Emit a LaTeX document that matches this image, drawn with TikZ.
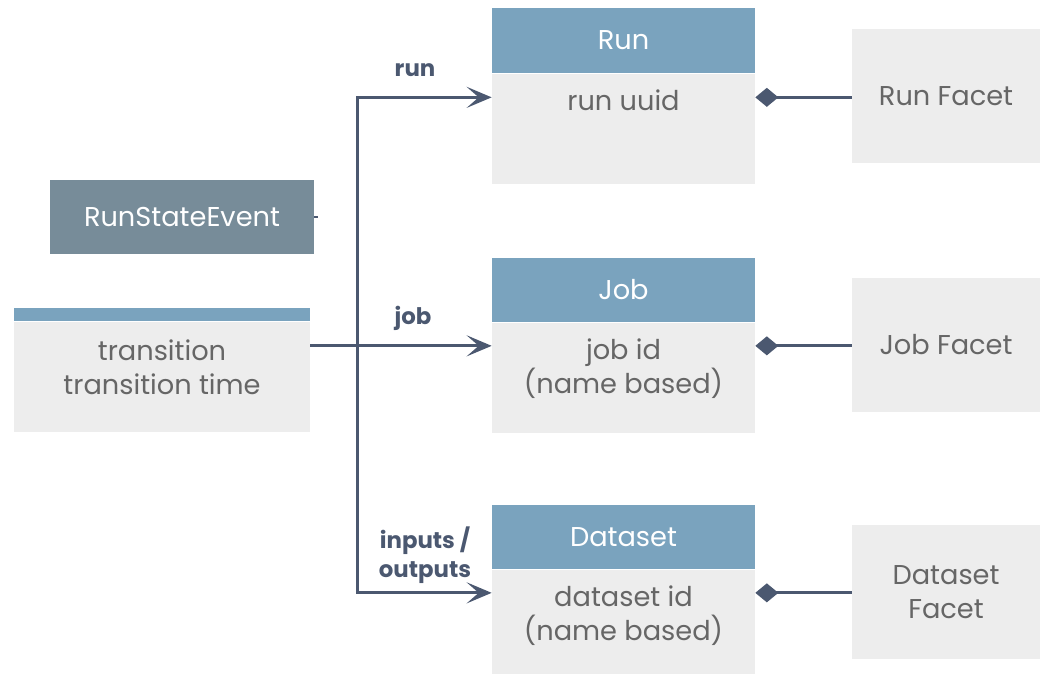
\documentclass[tikz,border=0pt]{standalone}
\usepackage{fontspec}
\setmainfont{Poppins}
\usetikzlibrary{positioning,arrows.meta,calc}

\definecolor{hdrblue}{HTML}{7AA3BE}
\definecolor{boxgray}{HTML}{EDEDED}
\definecolor{evtgray}{HTML}{778C99}
\definecolor{linecol}{HTML}{4B5870}
\definecolor{txtgray}{HTML}{666666}

\tikzset{
  hdr/.style={rectangle, fill=hdrblue, text=white, minimum width=5.26cm,
    minimum height=1.3cm, inner sep=0pt, font=\fontsize{15.5}{19.3}\selectfont},
  body/.style={rectangle, fill=boxgray, minimum width=5.26cm,
    minimum height=2.2cm, inner sep=0pt},
  facet/.style={rectangle, fill=boxgray, text=txtgray, minimum width=3.76cm,
    minimum height=2.7cm, inner sep=0pt, align=center,
    font=\fontsize{15.5}{19.3}\selectfont},
  txt/.style={text=txtgray, inner sep=0pt, align=center,
    font=\fontsize{15.5}{19.3}\selectfont},
  lbl/.style={text=linecol, inner sep=0pt, align=center,
    font=\fontsize{13}{16.5}\selectfont\bfseries},
  link/.style={draw=linecol, line width=1.7pt,
    -{Stealth[length=0.5cm, width=0.42cm, inset=0.24cm]}},
  comp/.style={draw=linecol, line width=1.7pt,
    {Diamond[length=0.46cm, width=0.38cm]}-},
}

\begin{document}
\begin{tikzpicture}[x=0.02cm, y=-0.02cm]
  \useasboundingbox (0,0) rectangle (1043,675);

  \node[rectangle, fill=evtgray, text=white, minimum width=5.28cm, minimum height=1.5cm,
    inner sep=0pt, font=\fontsize{15.5}{19.3}\selectfont] (evt) at (182,217) {RunStateEvent};
  \draw[draw=linecol, line width=1pt] (evt.east) -- ++(4,0);

  \node[rectangle, fill=hdrblue, minimum width=5.92cm, minimum height=0.26cm,
    inner sep=0pt] (trhdr) at (162,314.5) {};
  \node[body, minimum width=5.92cm, below=0pt of trhdr] (trbody) {};
  \node[txt] (trtxt) at ($(trbody.center)+(0,-9)$) {transition\\transition time};

  \node[hdr] (run) at (623.5,40.5) {Run};
  \node[body, below=0pt of run] (runbody) {};
  \node[txt, below=0.32cm of runbody.north] (runtxt) {run uuid};

  \node[hdr] (job) at (623.5,290) {Job};
  \node[body, below=0pt of job] (jobbody) {};
  \node[txt, below=0.32cm of jobbody.north] (jobtxt) {job id\\(name based)};

  \node[hdr] (ds) at (623.5,537) {Dataset};
  \node[body, minimum height=2.08cm, below=0pt of ds] (dsbody) {};
  \node[txt, below=0.32cm of dsbody.north] (dstxt) {dataset id\\(name based)};

  \node[facet] (runfacet) at (946,96) {Run Facet};
  \node[facet] (jobfacet) at (946,345) {Job Facet};
  \node[facet] (dsfacet) at (946,592) {Dataset\\Facet};

  \coordinate (runin) at ($(runbody.north west)+(0,24)$);
  \coordinate (jobin) at ($(jobbody.north west)+(0,23)$);
  \coordinate (dsin) at ($(dsbody.north west)+(0,23)$);
  \coordinate (fork) at (trbody.east |- jobin);
  \coordinate (trunk) at ($(fork)+(47,0)$);

  \draw[link] (fork) -- (jobin);
  \draw[link] (trunk) |- (runin);
  \draw[link] (trunk) |- (dsin);

  \node[lbl] (runlbl) at (415,70) {run};
  \node[lbl] (joblbl) at (413,318) {job};
  \node[lbl] (dslbl) at (425,555) {inputs /\\outputs};

  \draw[comp] (runbody.east |- runin) -- (runfacet.west |- runin);
  \draw[comp] (jobbody.east |- jobin) -- (jobfacet.west |- jobin);
  \draw[comp] (dsbody.east |- dsin) -- (dsfacet.west |- dsin);
\end{tikzpicture}
\end{document}
